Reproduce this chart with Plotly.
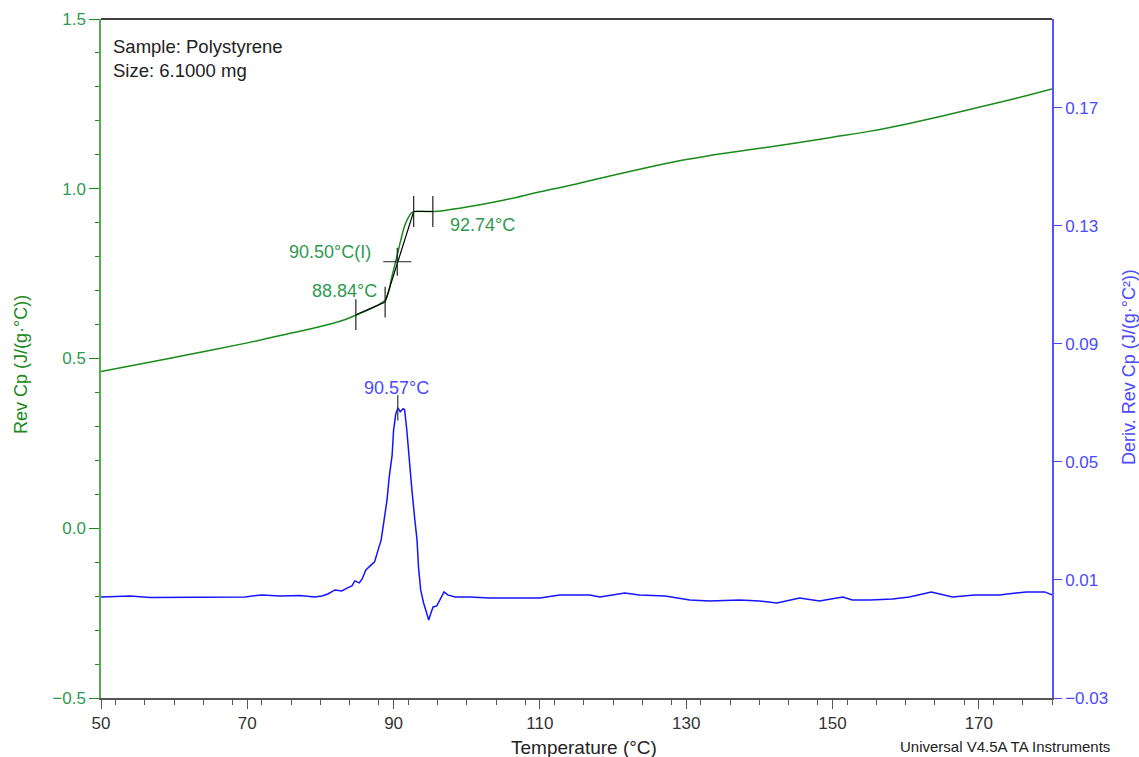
import plotly.graph_objects as go

# ---- data ----
temp_cp = [50, 55, 60, 65, 70, 75, 80, 83, 85, 86, 87, 88, 88.84, 89.3, 89.7, 90.1, 90.5, 91.0,
           91.5, 92.0, 92.4, 92.8, 93.5, 94.5, 95.5, 97, 100, 105, 110, 115, 120, 125, 130, 135,
           140, 145, 150, 155, 160, 165, 170, 175, 180]
rev_cp = [0.462, 0.482, 0.503, 0.524, 0.546, 0.570, 0.594, 0.612, 0.629, 0.638, 0.648, 0.659,
          0.672, 0.695, 0.735, 0.770, 0.805, 0.850, 0.890, 0.915, 0.928, 0.933, 0.934, 0.933,
          0.933, 0.936, 0.946, 0.966, 0.991, 1.014, 1.040, 1.064, 1.086, 1.104, 1.119, 1.135,
          1.152, 1.169, 1.190, 1.214, 1.240, 1.266, 1.294]

temp_d = [50.0, 54.0, 56.7, 69.7, 72.0, 74.5, 77.2, 79.2, 80.2, 81.0, 82.0, 82.9, 83.7, 84.3,
          84.7, 85.3, 85.7, 86.2, 86.8, 87.4, 87.8, 88.3, 88.7, 89.1, 89.4, 89.8, 90.0, 90.3,
          90.6, 90.9, 91.3, 91.5, 91.8, 92.1, 92.5, 92.9, 93.2, 93.4, 93.7, 94.1, 94.5, 94.8,
          95.1, 95.4, 95.9, 96.5, 96.9, 97.4, 98.4, 100.4, 103.1, 105.9, 110.0, 112.7, 116.8,
          118.2, 121.6, 123.6, 127.1, 130.5, 133.2, 137.3, 140.0, 142.4, 145.5, 148.2, 151.4,
          152.7, 155.1, 158.2, 160.5, 163.5, 166.4, 169.4, 172.8, 176.5, 179.0, 180.0]
deriv = [0.00424, 0.00458, 0.00407, 0.00424, 0.00492, 0.00458, 0.00475, 0.00424, 0.00458,
         0.00525, 0.00661, 0.00627, 0.00729, 0.00797, 0.00966, 0.00898, 0.01034, 0.01339,
         0.01475, 0.01610, 0.01949, 0.02356, 0.03034, 0.03712, 0.04492, 0.05237, 0.06085,
         0.06627, 0.06831, 0.06695, 0.06797, 0.06763, 0.06085, 0.05068, 0.04051, 0.03034,
         0.02356, 0.01441, 0.00661, 0.00220, -0.00119, -0.00356, -0.00119, 0.00085, 0.00119,
         0.00424, 0.00593, 0.00492, 0.00424, 0.00424, 0.00390, 0.00390, 0.00390, 0.00492,
         0.00492, 0.00424, 0.00559, 0.00492, 0.00458, 0.00322, 0.00288, 0.00322, 0.00288,
         0.00220, 0.00390, 0.00288, 0.00424, 0.00322, 0.00322, 0.00356, 0.00424, 0.00593,
         0.00424, 0.00492, 0.00492, 0.00593, 0.00593, 0.00492]

# analysis (tangent construction) points
tan_t = [84.84, 88.84, 92.74, 95.36]
tan_cp = [0.629, 0.666, 0.933, 0.933]
infl_t = [90.50]
infl_cp = [0.785]
peak_t = [90.57]
peak_d = [0.0683]

GREEN = "#1a8a1a"
GREEN_TXT = "#2f9a4f"
BLUE = "#1414ff"
BLUE_TXT = "#4a4aff"
FONT = "Liberation Sans, Arial, sans-serif"
TICK_FS = 17
ANN_FS = 18

W, H = 1139, 757
L, R, T, B = 101, 87, 19, 59

fig = go.Figure()
fig.add_trace(go.Scatter(x=temp_cp, y=rev_cp, mode="lines", line=dict(color=GREEN, width=1.5),
                         line_shape="spline", showlegend=False))
fig.add_trace(go.Scatter(x=tan_t, y=tan_cp, mode="lines+markers", line=dict(color="black", width=1.2),
                         marker=dict(symbol="line-ns", size=22, line=dict(color="#222", width=1.2)),
                         showlegend=False))
fig.add_trace(go.Scatter(x=infl_t, y=infl_cp, mode="markers",
                         marker=dict(symbol="cross-thin", size=20, line=dict(color="#222", width=1.2)),
                         showlegend=False))
fig.add_trace(go.Scatter(x=temp_d, y=deriv, mode="lines", line=dict(color=BLUE, width=1.5),
                         yaxis="y2", showlegend=False))
fig.add_trace(go.Scatter(x=peak_t, y=peak_d, mode="markers", yaxis="y2",
                         marker=dict(symbol="line-ns", size=18, line=dict(color="#333", width=1.2)),
                         showlegend=False))

fig.update_layout(
    width=W, height=H,
    margin=dict(l=L, r=R, t=T, b=B, autoexpand=False),
    paper_bgcolor="white", plot_bgcolor="white",
    font=dict(family=FONT, size=TICK_FS),
    xaxis=dict(range=[50, 180], tickvals=[50, 70, 90, 110, 130, 150, 170], automargin=False,
               showgrid=False, zeroline=False, showline=True, linecolor="#555", linewidth=1.5,
               ticks="outside", ticklen=9, tickcolor="#555", tickwidth=1.2,
               minor=dict(dtick=4, ticks="outside", ticklen=5, tickcolor="#555", tickwidth=1.2),
               tickfont=dict(color="#333", size=TICK_FS)),
    yaxis=dict(range=[-0.5, 1.5], tickvals=[-0.5, 0, 0.5, 1.0, 1.5], tickformat=".1f",
               automargin=False,
               showgrid=False, zeroline=False, showline=True, linecolor="#55aa55", linewidth=1.5,
               ticks="outside", ticklen=10, tickcolor=GREEN, tickwidth=1.2,
               minor=dict(dtick=0.1, ticks="outside", ticklen=4, tickcolor=GREEN, tickwidth=1.2),
               tickfont=dict(color=GREEN_TXT, size=TICK_FS)),
    yaxis2=dict(range=[-0.03, 0.2], tickvals=[-0.03, 0.01, 0.05, 0.09, 0.13, 0.17],
                overlaying="y", side="right", automargin=False,
                showgrid=False, zeroline=False, showline=True, linecolor="#5555ff", linewidth=1.5,
                ticks="outside", ticklen=8, tickcolor="#4444ff", tickwidth=1.2,
                tickfont=dict(color=BLUE_TXT, size=TICK_FS)),
)

# top border
fig.add_shape(type="line", xref="paper", yref="paper", x0=0, x1=1, y0=1, y1=1,
              line=dict(color="black", width=1.5))

pw, ph = W - L - R, H - T - B


def px_x(p):
    return (p - L) / pw


def px_y(p):
    return (H - B - p) / ph


# axis titles
fig.add_annotation(xref="paper", yref="paper", x=px_x(584), y=px_y(747), xanchor="center",
                   yanchor="middle", text="Temperature (°C)",
                   showarrow=False, font=dict(color="#222", size=19))
fig.add_annotation(xref="paper", yref="paper", x=px_x(21), y=px_y(365), xanchor="center",
                   yanchor="middle", text="Rev Cp (J/(g·°C))",
                   textangle=-90, showarrow=False, font=dict(color=GREEN, size=ANN_FS))
fig.add_annotation(xref="paper", yref="paper", x=px_x(1129), y=px_y(367), xanchor="center",
                   yanchor="middle", text="Deriv. Rev Cp (J/(g·°C²))", textangle=-90,
                   showarrow=False, font=dict(color=BLUE_TXT, size=ANN_FS))

fig.add_annotation(xref="paper", yref="paper", x=px_x(111), y=px_y(34), xanchor="left", yanchor="top",
                   align="left", showarrow=False, text="Sample: Polystyrene<br>Size: 6.1000 mg",
                   font=dict(color="#222", size=18.5))
fig.add_annotation(x=102.1, y=0.893, text="92.74°C", showarrow=False,
                   font=dict(color=GREEN_TXT, size=ANN_FS))
fig.add_annotation(x=81.3, y=0.814, text="90.50°C(I)", showarrow=False,
                   font=dict(color=GREEN_TXT, size=ANN_FS))
fig.add_annotation(x=83.3, y=0.699, text="88.84°C", showarrow=False,
                   font=dict(color=GREEN_TXT, size=ANN_FS))
fig.add_annotation(x=90.4, y=0.0751, yref="y2", text="90.57°C", showarrow=False,
                   font=dict(color=BLUE_TXT, size=ANN_FS))
fig.add_annotation(xref="paper", yref="paper", x=px_x(1112), y=px_y(746), xanchor="right",
                   yanchor="middle", text="Universal V4.5A TA Instruments", showarrow=False,
                   font=dict(color="#222", size=15))

fig.write_html("out.html", config={"displayModeBar": False},
               post_script="document.body.style.margin='0';document.body.style.padding='0';"
                           "document.body.style.overflow='hidden';")
